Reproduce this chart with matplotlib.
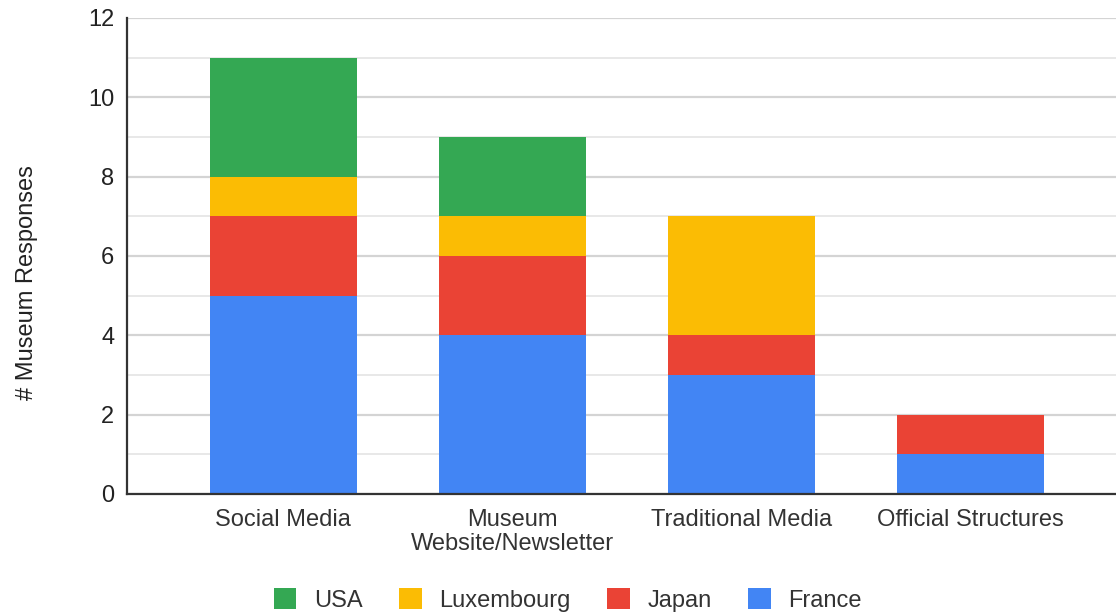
import numpy as np
import matplotlib.pyplot as plt
from matplotlib.ticker import MultipleLocator

# Museum responses by communication channel, stacked by country
channels = ["Social Media", "Museum\nWebsite/Newsletter", "Traditional Media", "Official Structures"]
france = [5, 4, 3, 1]
japan = [2, 2, 1, 1]
luxembourg = [1, 1, 3, 0]
usa = [3, 2, 0, 0]

series = [
    ("France", france, "#4285F4"),
    ("Japan", japan, "#EA4335"),
    ("Luxembourg", luxembourg, "#FBBC04"),
    ("USA", usa, "#34A853"),
]

plt.rcParams["font.family"] = ["Liberation Sans", "DejaVu Sans"]
text_color = "#222222"

fig = plt.figure(figsize=(11.16, 6.12), dpi=100)
ax = fig.add_axes([127 / 1116, 1 - 494 / 612, 1 - 127 / 1116, (494 - 18) / 612])

x = np.arange(len(channels))
bottom = np.zeros(len(channels))
handles = {}
for name, vals, color in series:
    vals = np.array(vals, dtype=float)
    bars = ax.bar(x, vals, bottom=bottom, width=0.64, color=color, zorder=3, label=name)
    handles[name] = bars
    bottom += vals

ax.set_xlim(-0.683, 3.635)
ax.set_ylim(0, 12)
ax.yaxis.set_major_locator(MultipleLocator(2))
ax.yaxis.set_minor_locator(MultipleLocator(1))
ax.grid(axis="y", which="major", color="#d4d4d4", linewidth=1.6, zorder=0)
ax.grid(axis="y", which="minor", color="#e8e8e8", linewidth=1.4, zorder=0)
ax.set_axisbelow(True)

for side in ["top", "right"]:
    ax.spines[side].set_visible(False)
for side in ["left", "bottom"]:
    ax.spines[side].set_color("#333333")
    ax.spines[side].set_linewidth(1.6)
    ax.spines[side].set_zorder(4)

ax.set_xticks(x)
ax.set_xticklabels(channels, fontsize=17, color="#333333", linespacing=1.1)
ax.tick_params(axis="x", length=0, pad=11)
ax.tick_params(axis="y", which="both", length=0, pad=9, labelsize=17, labelcolor=text_color)

fig.text(27 / 1116, 1 - 283 / 612, "# Museum Responses", rotation=90, ha="center", va="center",
         fontsize=17, color=text_color)

order = ["USA", "Luxembourg", "Japan", "France"]
fig.legend([handles[n] for n in order], order, loc="center", bbox_to_anchor=(0.509, 1 - 600 / 612),
           ncol=4, frameon=False, fontsize=17, handlelength=0.95, handleheight=0.95,
           handletextpad=0.75, columnspacing=1.55, labelcolor="#333333")

fig.savefig("out.png", dpi=100)
